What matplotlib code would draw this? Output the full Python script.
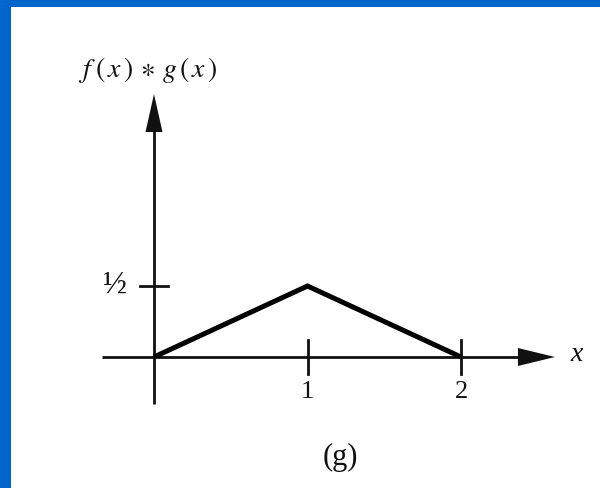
import matplotlib
matplotlib.use("Agg")
import matplotlib.pyplot as plt

# Convolution of two unit boxes: triangle on [0, 2]
x_vals = [0, 1, 2]
y_vals = [0, 0.5, 0]
x_ticks = [1, 2]
x_tick_labels = ["1", "2"]
y_ticks = [0.5]
y_tick_labels = ["\u00bd"]

W, H = 600, 489
fig = plt.figure(figsize=(W / 100, H / 100), dpi=100, facecolor="#0066CC")

# white panel (blue band on top and left)
left_px, top_px = 11, 8
ax = fig.add_axes([left_px / W, 0, (W - left_px) / W, (H - top_px) / H])
ax.set_facecolor("white")
for s in ax.spines.values():
    s.set_visible(False)
ax.set_xticks([])
ax.set_yticks([])

# pixel geometry -> data scale
ox, oy = 154, 358          # origin in pixels
sx, sy = 153.5, 142.0      # pixels per unit
ax.set_xlim((left_px - ox) / sx, (W - ox) / sx)
ax.set_ylim((oy - H) / sy, (oy - top_px) / sy)

ink = "#111111"
px_x = 1 / sx
px_y = 1 / sy

# x axis with arrow
x_tip = 2.612
ax.plot([-0.339, x_tip - 30 * px_x], [0, 0], color=ink, lw=2.0, solid_capstyle="butt")
ax.fill([x_tip, x_tip - 37 * px_x, x_tip - 37 * px_x],
        [0, 9 * px_y, -9 * px_y], color=ink, lw=0)

# y axis with arrow
y_tip = 1.852
ax.plot([0, 0], [-0.331, y_tip - 30 * px_y], color=ink, lw=2.0, solid_capstyle="butt")
ax.fill([0, -8.5 * px_x, 8.5 * px_x],
        [y_tip, y_tip - 38 * px_y, y_tip - 38 * px_y], color=ink, lw=0)

# tick marks
for t in x_ticks:
    ax.plot([t, t], [-17 * px_y, 17 * px_y], color=ink, lw=2.0)
for t in y_ticks:
    ax.plot([-14 * px_x, 14 * px_x], [t, t], color=ink, lw=2.0)

# the triangle
ax.plot(x_vals, y_vals, color="black", lw=3.6, solid_joinstyle="miter",
        solid_capstyle="butt")

serif = ["Liberation Serif", "DejaVu Serif"]
for t, lab in zip(x_ticks, x_tick_labels):
    ax.text(t, -34 * px_y, lab, ha="center", va="center", fontsize=19,
            family=serif, color=ink)
for t, lab in zip(y_ticks, y_tick_labels):
    ax.text(-39 * px_x, t + 2 * px_y, lab, ha="center", va="center", fontsize=23,
            family=serif, color=ink)

ax.text(x_tip + 22 * px_x, 3 * px_y, "x", ha="center", va="center",
        fontsize=20, family=serif, style="italic", color=ink)

plt.rcParams["mathtext.fontset"] = "stix"
ax.text(-76 * px_x, (oy - 70) / sy,
        r"$f\;(\,x\,)\,\ast\,g\,(\,x\,)$", ha="left", va="center",
        fontsize=20, color=ink)

ax.text(186 * px_x, (oy - 457) / sy, "(g)", ha="center", va="center",
        fontsize=22, family=serif, color=ink)

fig.savefig("out.png", dpi=100, facecolor=fig.get_facecolor())
